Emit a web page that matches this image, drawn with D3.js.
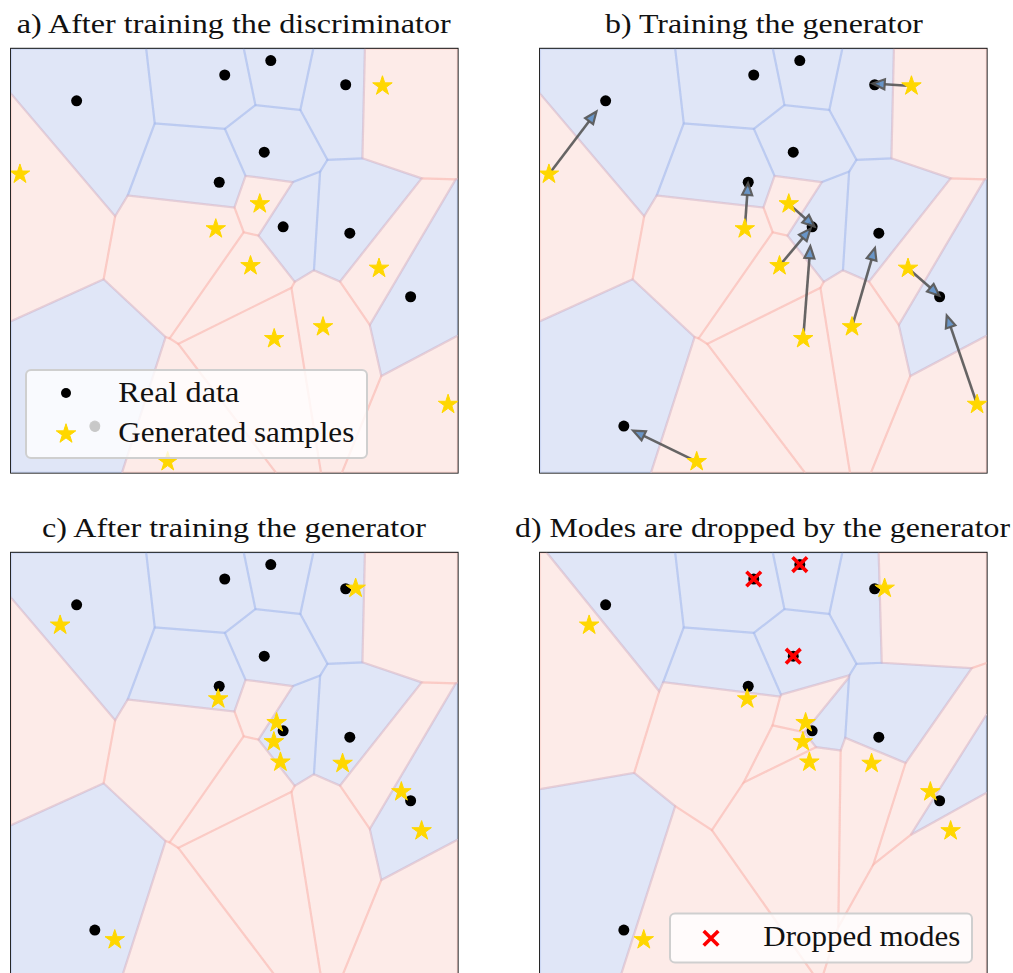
<!DOCTYPE html>
<html>
<head>
<meta charset="utf-8">
<script src="https://cdn.jsdelivr.net/npm/d3@7"></script>
<style>
  html, body { margin: 0; padding: 0; background: #fff; }
  svg { display: block; }
  text { font-family: "Liberation Serif", "Times New Roman", serif; fill: #111; }
</style>
</head>
<body>
<svg id="chart" width="1013" height="973"></svg>
<script>
// Real data modes
const realX = [0.191, 0.622, 0.756, 0.974, 0.737, 0.606, 0.792, 0.986, 1.163, 0.244];
const realY = [0.877, 0.938, 0.972, 0.915, 0.756, 0.685, 0.580, 0.565, 0.415, 0.110];
// Generated samples before the generator step
const genX0 = [1.081, 0.026, 0.724, 0.596, 0.697, 1.071, 0.908, 0.766, 1.272, 0.456];
const genY0 = [0.912, 0.704, 0.634, 0.575, 0.488, 0.482, 0.344, 0.316, 0.161, 0.026];
// Generated samples after the generator step
const genX1 = [1.003, 0.143, 0.773, 0.603, 0.765, 1.136, 0.965, 0.784, 1.195, 0.302];
const genY1 = [0.916, 0.829, 0.599, 0.655, 0.554, 0.436, 0.503, 0.506, 0.344, 0.087];
// Real modes no longer covered by any generated sample
const droppedModes = [1, 2, 4];

const titles = [
  "a) After training the discriminator",
  "b) Training the generator",
  "c) After training the generator",
  "d) Modes are dropped by the generator"
];
const legendLabels = ["Real data", "Generated samples", "Dropped modes"];

const xDomain = [0, 1.3];
const yDomain = [0, 1];

const W = 446.7, H = 424;
const COLORS = {
  realFill: "#e0e6f7", fakeFill: "#fdebe8",
  realEdge: "rgba(95,135,230,0.15)", fakeEdge: "rgba(250,120,105,0.15)",
  star: "#FFD700", dot: "#000", cross: "#ff0000"
};

const svg = d3.select("#chart");
svg.append("rect").attr("width", 1013).attr("height", 973).attr("fill", "#fff");

const zip = (xs, ys) => xs.map((v, i) => [v, ys[i]]);
const realPts = zip(realX, realY);
const gen0 = zip(genX0, genY0);
const gen1 = zip(genX1, genY1);

const panels = [
  { title: titles[0], left: 11,  top: 48.7,  titleX: 233.7, titleY: 33,  titleW: 434, cells: gen0, stars: gen0, arrows: false, legend: "main", dropped: false },
  { title: titles[1], left: 540, top: 48.7,  titleX: 764,   titleY: 33,  titleW: 318, cells: gen0, stars: gen0, arrows: true,  legend: null,   dropped: false },
  { title: titles[2], left: 11,  top: 552.7, titleX: 234,   titleY: 537, titleW: 384, cells: gen0, stars: gen1, arrows: false, legend: null,   dropped: false },
  { title: titles[3], left: 540, top: 552.7, titleX: 762.5, titleY: 537, titleW: 495, cells: gen1, stars: gen1, arrows: false, legend: "drop", dropped: true }
];

const starSym = d3.symbol().type(d3.symbolStar).size(118);

function crossPath(cx, cy, s) {
  return `M${cx - s},${cy - s}L${cx + s},${cy + s}M${cx - s},${cy + s}L${cx + s},${cy - s}`;
}

panels.forEach((p, pi) => {
  const x = d3.scaleLinear().domain(xDomain).range([0, W]);
  const y = d3.scaleLinear().domain(yDomain).range([H, 0]);

  svg.append("text")
    .attr("x", p.titleX).attr("y", p.titleY)
    .attr("text-anchor", "middle")
    .attr("font-size", 28)
    .attr("textLength", p.titleW)
    .attr("lengthAdjust", "spacingAndGlyphs")
    .text(p.title);

  const clipId = "clip" + pi;
  svg.append("clipPath").attr("id", clipId)
    .append("rect").attr("x", p.left).attr("y", p.top).attr("width", W).attr("height", H);

  const g = svg.append("g").attr("transform", `translate(${p.left},${p.top})`);
  const gc = svg.append("g").attr("clip-path", `url(#${clipId})`)
    .append("g").attr("transform", `translate(${p.left},${p.top})`);

  // Voronoi tessellation of real + generated points
  const allPts = realPts.concat(p.cells);
  const nReal = realPts.length;
  const vor = d3.Delaunay.from(allPts).voronoi([xDomain[0], yDomain[0], xDomain[1], yDomain[1]]);
  const line = d3.line().x(d => x(d[0])).y(d => y(d[1])).curve(d3.curveLinearClosed);
  const polys = allPts.map((_, i) => vor.cellPolygon(i));

  gc.selectAll("path.fill").data(polys).join("path")
    .attr("class", "fill")
    .attr("d", d => line(d.slice(0, -1)))
    .attr("fill", (d, i) => i < nReal ? COLORS.realFill : COLORS.fakeFill)
    .attr("stroke", (d, i) => i < nReal ? COLORS.realFill : COLORS.fakeFill)
    .attr("stroke-width", 0.6);
  gc.selectAll("path.edge").data(polys).join("path")
    .attr("class", "edge")
    .attr("d", d => line(d.slice(0, -1)))
    .attr("fill", "none")
    .attr("stroke", (d, i) => i < nReal ? COLORS.realEdge : COLORS.fakeEdge)
    .attr("stroke-width", 2.2);

  // Real data
  gc.selectAll("circle.real").data(realPts).join("circle")
    .attr("class", "real")
    .attr("cx", d => x(d[0])).attr("cy", d => y(d[1])).attr("r", 5.5)
    .attr("fill", COLORS.dot);

  // Generator update arrows
  if (p.arrows) {
    const ag = gc.append("g");
    gen0.forEach((s, i) => {
      const x0 = x(s[0]), y0 = y(s[1]);
      const x1 = x(gen1[i][0]), y1 = y(gen1[i][1]);
      const dx = x1 - x0, dy = y1 - y0, L = Math.hypot(dx, dy);
      const ux = dx / L, uy = dy / L;
      const hl = 12, hw = 5;
      ag.append("line")
        .attr("x1", x0).attr("y1", y0).attr("x2", x1).attr("y2", y1)
        .attr("stroke", "#555").attr("stroke-width", 2.6).attr("stroke-opacity", 0.9);
      const tip = [x1 + ux * hl, y1 + uy * hl];
      const b1 = [x1 - uy * hw, y1 + ux * hw];
      const b2 = [x1 + uy * hw, y1 - ux * hw];
      ag.append("path")
        .attr("d", `M${tip[0]},${tip[1]}L${b1[0]},${b1[1]}L${b2[0]},${b2[1]}Z`)
        .attr("fill", "#5f8fc4").attr("stroke", "#555").attr("stroke-width", 2.2)
        .attr("stroke-linejoin", "miter").attr("opacity", 0.92);
    });
  }

  // Generated samples
  gc.selectAll("path.star").data(p.stars).join("path")
    .attr("class", "star")
    .attr("transform", d => `translate(${x(d[0])},${y(d[1])})`)
    .attr("d", starSym)
    .attr("fill", COLORS.star)
    .attr("stroke", COLORS.star).attr("stroke-width", 1).attr("stroke-linejoin", "round");

  // Dropped modes
  if (p.dropped) {
    droppedModes.forEach(i => {
      gc.append("path")
        .attr("d", crossPath(x(realPts[i][0]), y(realPts[i][1]), 7.3))
        .attr("stroke", COLORS.cross).attr("stroke-width", 3.6);
    });
  }

  // Frame
  g.append("rect").attr("width", W).attr("height", H)
    .attr("fill", "none").attr("stroke", "#111").attr("stroke-width", 1.8);

  // Legends
  if (p.legend === "main") {
    const lg = svg.append("g");
    lg.append("rect").attr("x", 26).attr("y", 370).attr("width", 341).attr("height", 88).attr("rx", 5)
      .attr("fill", "rgba(255,255,255,0.8)").attr("stroke", "#cfcfcf").attr("stroke-width", 2);
    lg.append("circle").attr("cx", 66).attr("cy", 393).attr("r", 5).attr("fill", COLORS.dot);
    lg.append("path").attr("transform", "translate(66,434)").attr("d", starSym)
      .attr("fill", COLORS.star).attr("stroke", COLORS.star).attr("stroke-width", 1).attr("stroke-linejoin", "round");
    lg.append("circle").attr("cx", 95).attr("cy", 427).attr("r", 5).attr("fill", "#c8c8c8");
    lg.append("text").attr("x", 118.3).attr("y", 401.5).attr("font-size", 29)
      .attr("textLength", 121).attr("lengthAdjust", "spacingAndGlyphs").text(legendLabels[0]);
    lg.append("text").attr("x", 118.3).attr("y", 441.5).attr("font-size", 29)
      .attr("textLength", 236).attr("lengthAdjust", "spacingAndGlyphs").text(legendLabels[1]);
  }
  if (p.legend === "drop") {
    const lg = svg.append("g");
    lg.append("rect").attr("x", 670).attr("y", 913.5).attr("width", 302).attr("height", 49).attr("rx", 5)
      .attr("fill", "rgba(255,255,255,0.8)").attr("stroke", "#cfcfcf").attr("stroke-width", 2);
    lg.append("path")
      .attr("d", crossPath(711, 938.3, 7.3))
      .attr("stroke", COLORS.cross).attr("stroke-width", 3.6);
    lg.append("text").attr("x", 763.3).attr("y", 946).attr("font-size", 29)
      .attr("textLength", 197).attr("lengthAdjust", "spacingAndGlyphs").text(legendLabels[2]);
  }
});
</script>
</body>
</html>
